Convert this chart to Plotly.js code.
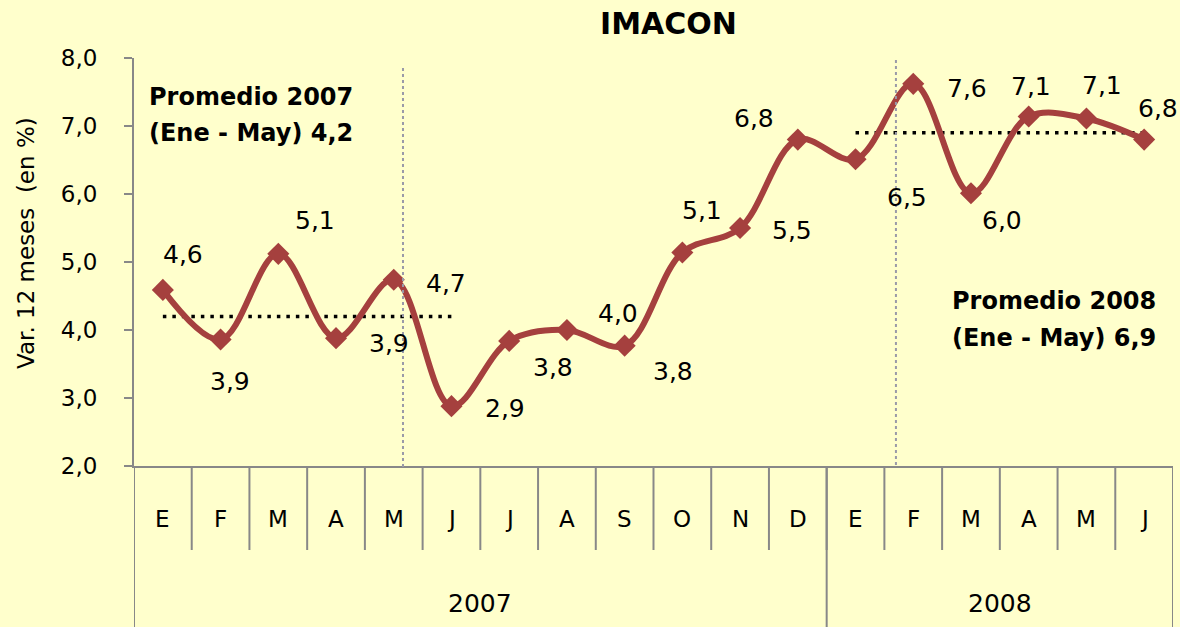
<!DOCTYPE html>
<html>
<head>
<meta charset="utf-8">
<script src="https://cdn.plot.ly/plotly-3.0.1.min.js"></script>
<style>html,body{margin:0;padding:0;background:#FFFFCC;}#chart{width:1180px;height:627px;}</style>
</head>
<body>
<div id="chart"></div>
<script>
// ---- data ----
const months = ["E","F","M","A","M","J","J","A","S","O","N","D","E","F","M","A","M","J"];
const years = ["2007","2008"];
const yearMonthCounts = [12, 6];
const imacon = [4.59,3.86,5.12,3.88,4.74,2.88,3.84,4.0,3.77,5.14,5.5,6.8,6.51,7.62,6.01,7.14,7.11,6.8];
const promedio2007 = 4.2;
const promedio2008 = 6.9;
const promedioLines2007 = ["Promedio 2007", "(Ene - May) 4,2"];
const promedioLines2008 = ["Promedio 2008", "(Ene - May) 6,9"];
const chartTitle = "IMACON";
const yTitle = "Var. 12 meses  (en %)";

// ---- label placement (pixels, styling only) ----
const labelOffsets = [[20,-35],[9,42],[37,-33],[53,5],[52,4],[54,2],[44,27],[51,-17],[48,26],
                      [20,-42],[52,2],[-44,-21],[51,38],[54,5],[31,27],[2,-30],[16,-33],[14,-31]];

const x = months.map((_, i) => i);
const fnt = "'DejaVu Sans', Verdana, sans-serif";
const lineColor = "#A5403E";
const axisGrey = "#888888";
const plotTop = 58, plotBottom = 466, plotH = plotBottom - plotTop;
const py = px => (plotBottom - px) / plotH;  // pixel row -> paper y

function fmt(v){ return v.toFixed(1).replace(".", ","); }

const traces = [
  { x: x.slice(0,6), y: x.slice(0,6).map(() => promedio2007), mode: "lines",
    line: {color: "#000", width: 3.5, dash: "3.5px,6px"}, hoverinfo: "skip" },
  { x: x.slice(12,18), y: x.slice(12,18).map(() => promedio2008), mode: "lines",
    line: {color: "#000", width: 3.5, dash: "3.5px,6px"}, hoverinfo: "skip" },
  { x: x, y: imacon, mode: "lines+markers",
    line: {color: lineColor, width: 6, shape: "spline", smoothing: 1},
    marker: {symbol: "diamond", size: 17, color: lineColor} }
];

const annotations = [];
imacon.forEach((v, i) => {
  annotations.push({x: i, y: v, xref: "x", yref: "y", text: fmt(v), showarrow: true,
    arrowcolor: "rgba(0,0,0,0)", ax: labelOffsets[i][0], ay: labelOffsets[i][1],
    font: {family: fnt, size: 25, color: "#000"}});
});
// month labels
months.forEach((m, i) => {
  annotations.push({x: i, y: py(519), xref: "x", yref: "paper", text: m, showarrow: false,
    yanchor: "middle", font: {family: fnt, size: 23, color: "#000"}});
});
// year labels
let start = 0;
years.forEach((yr, k) => {
  const n = yearMonthCounts[k];
  annotations.push({x: start + (n - 1) / 2, y: py(603), xref: "x", yref: "paper", text: yr,
    showarrow: false, yanchor: "middle", font: {family: fnt, size: 25, color: "#000"}});
  start += n;
});
// promedio texts
promedioLines2007.forEach((t, k) => {
  annotations.push({x: (147 - 134) / 1039, y: py([97, 133][k]), xref: "paper", yref: "paper",
    text: "<b>" + t + "</b>", showarrow: false, xanchor: "left", yanchor: "middle",
    font: {family: fnt, size: 24, color: "#000"}});
});
promedioLines2008.forEach((t, k) => {
  annotations.push({x: (950 - 134) / 1039, y: py([301, 338][k]), xref: "paper", yref: "paper",
    text: "<b>" + t + "</b>", showarrow: false, xanchor: "left", yanchor: "middle",
    font: {family: fnt, size: 24, color: "#000"}});
});
// title
annotations.push({x: (668 - 134) / 1039, y: py(23), xref: "paper", yref: "paper",
  text: "<b>" + chartTitle + "</b>", showarrow: false, xanchor: "center", yanchor: "middle",
  font: {family: fnt, size: 30, color: "#000"}});
// y-axis title
annotations.push({x: (26 - 134) / 1039, y: py(243), xref: "paper", yref: "paper",
  text: yTitle, textangle: -90, showarrow: false, xanchor: "center", yanchor: "middle",
  font: {family: fnt, size: 23, color: "#000"}});

const shapes = [];
// month separators
for (let i = 1; i < months.length; i++) {
  shapes.push({type: "line", xref: "x", yref: "paper", x0: i - 0.5, x1: i - 0.5, y0: 0, y1: py(550),
    line: {color: axisGrey, width: 2}});
}
// year separators (full height)
let b = -0.5;
shapes.push({type: "line", xref: "x", yref: "paper", x0: b, x1: b, y0: 0, y1: py(640), line: {color: axisGrey, width: 2}});
yearMonthCounts.forEach(n => {
  b += n;
  shapes.push({type: "line", xref: "x", yref: "paper", x0: b, x1: b, y0: 0, y1: py(640), line: {color: axisGrey, width: 2}});
});
// vertical dotted guides
shapes.push({type: "line", xref: "x", yref: "paper", x0: 4.16, x1: 4.16, y0: py(68), y1: py(470),
  line: {color: "#9A9AA8", width: 2, dash: "dot"}});
shapes.push({type: "line", xref: "x", yref: "paper", x0: 12.7, x1: 12.7, y0: py(60), y1: py(466),
  line: {color: "#9A9AA8", width: 2, dash: "dot"}});

const layout = {
  width: 1180, height: 627,
  paper_bgcolor: "#FFFFCC", plot_bgcolor: "#FFFFCC",
  margin: {l: 134, r: 7, t: plotTop, b: 627 - plotBottom},
  separators: ",.",
  showlegend: false,
  xaxis: {range: [-0.5, 17.5], showticklabels: false, showgrid: false, zeroline: false,
    showline: true, linecolor: axisGrey, linewidth: 2, ticks: "", fixedrange: true},
  yaxis: {range: [2, 8], dtick: 1, tickformat: ".1f", showgrid: false, zeroline: false,
    showline: true, linecolor: axisGrey, linewidth: 2, ticks: "outside", ticklen: 8,
    tickcolor: axisGrey, tickwidth: 2, ticklabelstandoff: 22,
    tickfont: {family: fnt, size: 23, color: "#000"}},
  annotations: annotations,
  shapes: shapes
};

Plotly.newPlot("chart", traces, layout, {staticPlot: true});
</script>
</body>
</html>
